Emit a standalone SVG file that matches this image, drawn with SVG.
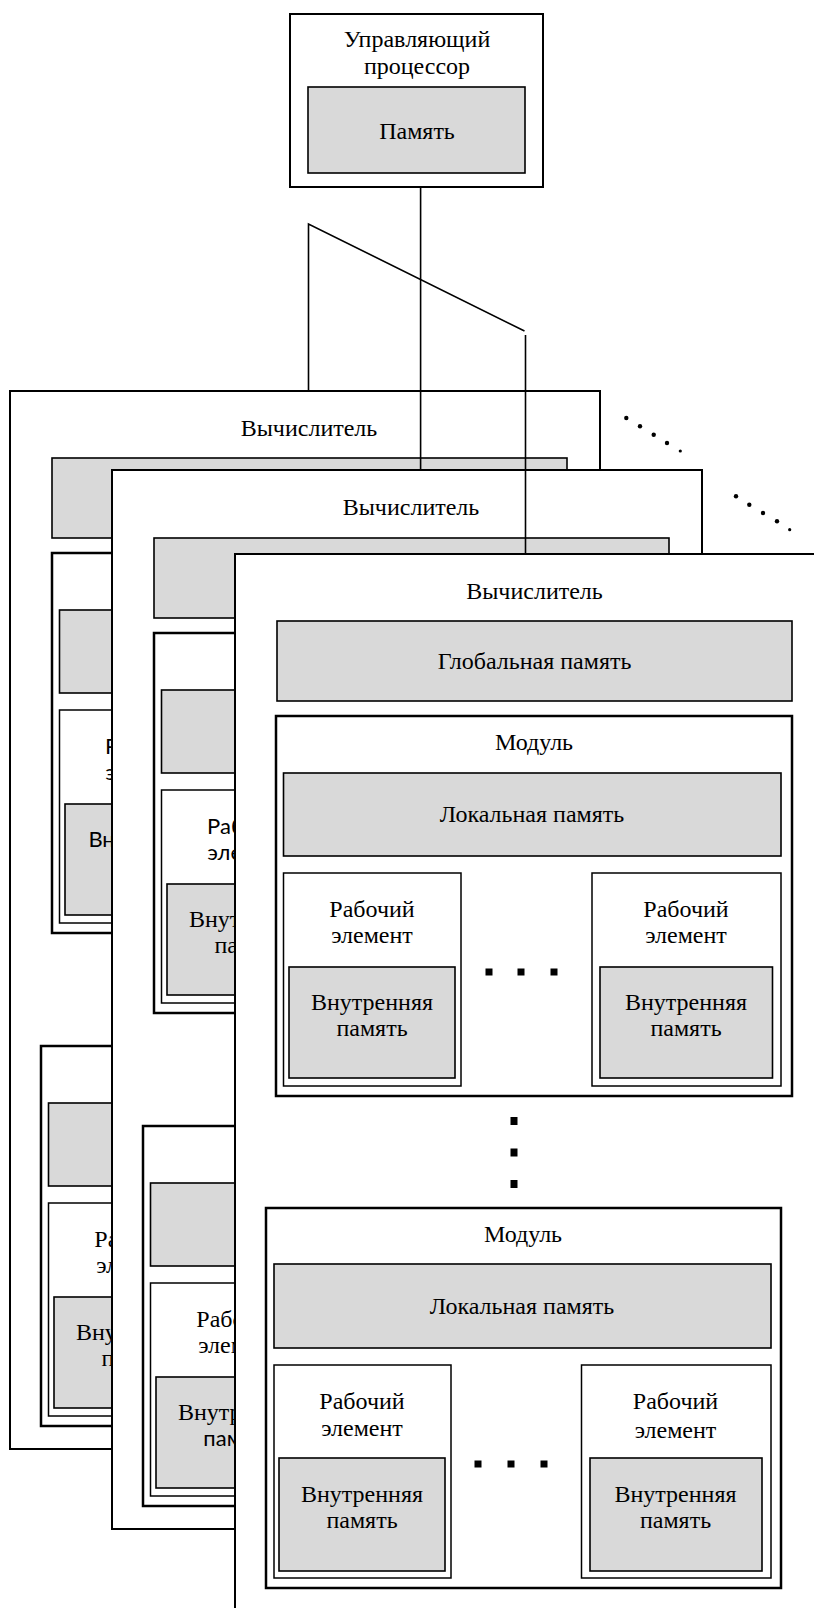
<svg xmlns="http://www.w3.org/2000/svg" width="814" height="1608" viewBox="0 0 814 1608">
<style>
.frame{fill:#fff;stroke:#000;stroke-width:2}
.mod{fill:#fff;stroke:#000;stroke-width:2.5}
.pe{fill:#fff;stroke:#000;stroke-width:1.5}
.mem{fill:#d9d9d9;stroke:#000;stroke-width:1.6}
.t{font-family:"Liberation Serif","Times New Roman",serif;font-size:24px;text-anchor:middle;fill:#000}
.s{font-family:Lato,"Liberation Sans",sans-serif;font-size:22px;text-anchor:middle;fill:#000}
.sq{fill:#000}
.conn{fill:none;stroke:#000;stroke-width:1.6}
</style>
<rect width="814" height="1608" fill="#fff"/>

<g id="control-processor">
<rect class="frame" x="290" y="14" width="253" height="173"/>
<text class="t" x="417" y="47">Управляющий</text>
<text class="t" x="417" y="74">процессор</text>
<rect class="mem" x="308" y="87" width="217" height="86"/>
<text class="t" x="417" y="139">Память</text>
</g>

<g id="computer-1" transform="translate(10,391)">
<rect class="frame" x="0" y="0" width="590" height="1058"/>
<text class="t" x="299" y="45">Вычислитель</text>
<rect class="mem" x="42" y="67" width="515" height="80"/>
<g transform="translate(42,162)">
<rect class="mod" x="0" y="0" width="516" height="380"/>
<rect class="mem" x="7.5" y="57" width="497.5" height="83"/>
<rect class="pe" x="7.5" y="157" width="177.5" height="213"/>
<text class="s" x="96" y="201">Рабочий</text>
<text class="s" x="96" y="227">элемент</text>
<rect class="mem" x="13" y="251" width="166" height="111"/>
<text class="s" x="96" y="294">Внутренняя</text>
<text class="s" x="96" y="320">память</text>
</g>
<g transform="translate(31,655)">
<rect class="mod" x="0" y="0" width="516" height="380"/>
<rect class="mem" x="7.5" y="57" width="497.5" height="83"/>
<rect class="pe" x="7.5" y="157" width="177.5" height="213"/>
<text class="t" x="96" y="201">Рабочий</text>
<text class="t" x="96" y="227">элемент</text>
<rect class="mem" x="13" y="251" width="166" height="111"/>
<text class="t" x="96" y="294">Внутренняя</text>
<text class="t" x="96" y="320">память</text>
</g>
</g>

<g id="computer-2" transform="translate(112,470)">
<rect class="frame" x="0" y="0" width="590" height="1059"/>
<text class="t" x="299" y="45">Вычислитель</text>
<rect class="mem" x="42" y="68" width="515" height="80"/>
<g transform="translate(42,163)">
<rect class="mod" x="0" y="0" width="516" height="380"/>
<rect class="mem" x="7.5" y="57" width="497.5" height="83"/>
<rect class="pe" x="7.5" y="157" width="177.5" height="213"/>
<text class="s" x="96" y="201">Рабочий</text>
<text class="s" x="96" y="227">элемент</text>
<rect class="mem" x="13" y="251" width="166" height="111"/>
<text class="t" x="96" y="294">Внутренняя</text>
<text class="t" x="96" y="320">память</text>
</g>
<g transform="translate(31,656)">
<rect class="mod" x="0" y="0" width="516" height="380"/>
<rect class="mem" x="7.5" y="57" width="497.5" height="83"/>
<rect class="pe" x="7.5" y="157" width="177.5" height="213"/>
<text class="t" x="96" y="201">Рабочий</text>
<text class="t" x="96" y="227">элемент</text>
<rect class="mem" x="13" y="251" width="166" height="111"/>
<text class="t" x="96" y="294">Внутренняя</text>
<text class="s" x="96" y="320">память</text>
</g>
</g>

<g id="computer-3" transform="translate(235,554)">
<rect class="frame" x="0" y="0" width="590" height="1058"/>
<text class="t" x="299.5" y="45">Вычислитель</text>
<rect class="mem" x="42" y="67" width="515" height="80"/>
<text class="t" x="299.5" y="115">Глобальная память</text>
<g id="module-1" transform="translate(41,162)">
<rect class="mod" x="0" y="0" width="516" height="380"/>
<text class="t" x="258" y="34">Модуль</text>
<rect class="mem" x="7.5" y="57" width="497.5" height="83"/>
<text class="t" x="256" y="106">Локальная память</text>
<g id="pe-1-1">
<rect class="pe" x="7.5" y="157" width="177.5" height="213"/>
<text class="t" x="96" y="201">Рабочий</text>
<text class="t" x="96" y="227">элемент</text>
<rect class="mem" x="13" y="251" width="166" height="111"/>
<text class="t" x="96" y="294">Внутренняя</text>
<text class="t" x="96" y="320">память</text>
</g>
<g id="pe-1-n">
<rect class="pe" x="316" y="157" width="189" height="213"/>
<text class="t" x="410" y="201">Рабочий</text>
<text class="t" x="410" y="227">элемент</text>
<rect class="mem" x="324" y="251" width="172.5" height="111"/>
<text class="t" x="410" y="294">Внутренняя</text>
<text class="t" x="410" y="320">память</text>
</g>
<rect class="sq" x="209.5" y="252.5" width="7" height="7"/>
<rect class="sq" x="241.5" y="252.5" width="7" height="7"/>
<rect class="sq" x="274.5" y="252.5" width="7" height="7"/>
</g>
<rect class="sq" x="275.5" y="563" width="7" height="8"/>
<rect class="sq" x="275.5" y="594.5" width="7" height="8"/>
<rect class="sq" x="275.5" y="626" width="7" height="8"/>
<g id="module-2" transform="translate(31,654)">
<rect class="mod" x="0" y="0" width="515" height="380"/>
<text class="t" x="257" y="34">Модуль</text>
<rect class="mem" x="8" y="56" width="497" height="84"/>
<text class="t" x="256" y="106">Локальная память</text>
<g id="pe-2-1">
<rect class="pe" x="8" y="157" width="177" height="213"/>
<text class="t" x="96" y="201">Рабочий</text>
<text class="t" x="96" y="228">элемент</text>
<rect class="mem" x="13" y="250" width="166" height="113"/>
<text class="t" x="96" y="294">Внутренняя</text>
<text class="t" x="96" y="320">память</text>
</g>
<g id="pe-2-n">
<rect class="pe" x="315.5" y="157" width="189.5" height="213"/>
<text class="t" x="409.5" y="201">Рабочий</text>
<text class="t" x="409.5" y="230">элемент</text>
<rect class="mem" x="324" y="250" width="172" height="113"/>
<text class="t" x="409.5" y="294">Внутренняя</text>
<text class="t" x="409.5" y="320">память</text>
</g>
<rect class="sq" x="208.5" y="252.5" width="7" height="7"/>
<rect class="sq" x="241.5" y="252.5" width="7" height="7"/>
<rect class="sq" x="274.5" y="252.5" width="7" height="7"/>
</g>
</g>

<g id="connectors">
<line class="conn" x1="420.6" y1="187" x2="420.6" y2="470"/>
<polyline class="conn" points="308.5,391 308.5,224 524.5,331"/>
<line class="conn" x1="525.5" y1="335" x2="525.5" y2="554"/>
</g>

<g id="ellipsis-dots">
<circle class="sq" cx="626.3" cy="418" r="2.2"/>
<circle class="sq" cx="640" cy="426.3" r="2.2"/>
<circle class="sq" cx="653.7" cy="434.7" r="2.2"/>
<circle class="sq" cx="667" cy="443" r="2.2"/>
<circle class="sq" cx="680.3" cy="451" r="1.6"/>
<circle class="sq" cx="736" cy="496.3" r="2.2"/>
<circle class="sq" cx="749.3" cy="504.7" r="2.2"/>
<circle class="sq" cx="763" cy="513" r="2.2"/>
<circle class="sq" cx="777" cy="521.3" r="2.2"/>
<circle class="sq" cx="789.7" cy="529.7" r="1.6"/>
</g>
</svg>
